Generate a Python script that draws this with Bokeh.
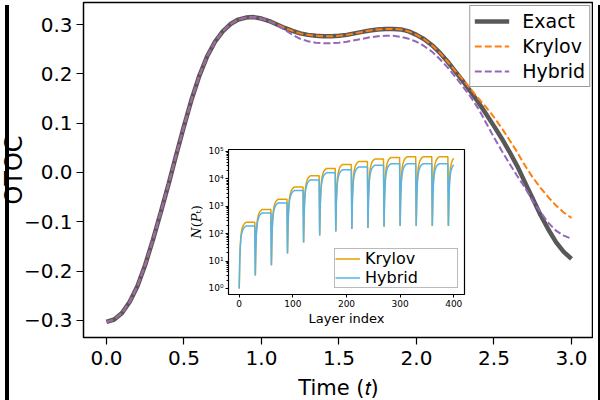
from bokeh.plotting import figure
from bokeh.models import FixedTicker, CustomJSTickFormatter, Div, GlobalInlineStyleSheet
from bokeh.embed import file_html
from bokeh.resources import INLINE

# ---- main panel: OTOC versus time ----
time = [0.00, 0.05, 0.10, 0.15, 0.20, 0.25, 0.30, 0.35, 0.40, 0.45,
        0.50, 0.55, 0.60, 0.65, 0.70, 0.75, 0.80, 0.85, 0.90, 0.95,
        1.00, 1.05, 1.10, 1.15, 1.20, 1.25, 1.30, 1.35, 1.40, 1.45,
        1.50, 1.55, 1.60, 1.65, 1.70, 1.75, 1.80, 1.85, 1.90, 1.95,
        2.00, 2.05, 2.10, 2.15, 2.20, 2.25, 2.30, 2.35, 2.40, 2.45,
        2.50, 2.55, 2.60, 2.65, 2.70, 2.75, 2.80, 2.85, 2.90, 2.95, 3.00]

otoc_exact = [-0.303, -0.298, -0.285, -0.262, -0.230, -0.187, -0.136, -0.081, -0.024, 0.036,
              0.094, 0.149, 0.197, 0.236, 0.265, 0.286, 0.301, 0.310, 0.314, 0.315,
              0.312, 0.307, 0.300, 0.293, 0.287, 0.282, 0.279, 0.277, 0.276, 0.276,
              0.277, 0.279, 0.282, 0.285, 0.288, 0.290, 0.291, 0.291, 0.290, 0.286,
              0.279, 0.270, 0.258, 0.243, 0.225, 0.205, 0.185, 0.164, 0.142, 0.118,
              0.094, 0.069, 0.042, 0.013, -0.020, -0.053, -0.086, -0.115, -0.141, -0.161, -0.175]

otoc_krylov = [-0.303, -0.298, -0.285, -0.262, -0.230, -0.187, -0.136, -0.081, -0.024, 0.036,
               0.094, 0.149, 0.197, 0.236, 0.265, 0.286, 0.301, 0.310, 0.314, 0.315,
               0.312, 0.307, 0.300, 0.293, 0.287, 0.282, 0.279, 0.277, 0.276, 0.276,
               0.277, 0.279, 0.282, 0.285, 0.288, 0.290, 0.291, 0.291, 0.290, 0.286,
               0.279, 0.270, 0.258, 0.243, 0.225, 0.206, 0.188, 0.169, 0.150, 0.132,
               0.112, 0.090, 0.066, 0.041, 0.014, -0.010, -0.031, -0.050, -0.067, -0.081, -0.092]

otoc_hybrid = [-0.303, -0.298, -0.285, -0.262, -0.230, -0.187, -0.136, -0.081, -0.024, 0.036,
               0.094, 0.149, 0.197, 0.236, 0.265, 0.286, 0.301, 0.310, 0.314, 0.315,
               0.312, 0.307, 0.299, 0.289, 0.279, 0.271, 0.266, 0.263, 0.262, 0.262,
               0.263, 0.265, 0.268, 0.271, 0.274, 0.276, 0.277, 0.277, 0.275, 0.271,
               0.265, 0.256, 0.245, 0.230, 0.213, 0.194, 0.174, 0.153, 0.129, 0.100,
               0.071, 0.044, 0.018, -0.007, -0.031, -0.058, -0.080, -0.102, -0.118, -0.128, -0.134]

time_ticks = [0.0, 0.5, 1.0, 1.5, 2.0, 2.5, 3.0]
otoc_ticks = [-0.3, -0.2, -0.1, 0.0, 0.1, 0.2, 0.3]

# ---- inset: number of Pauli strings per layer ----
layers_per_step = 30
layer_index = list(range(0, 401))
step_dip = [1, 3, 7, 19, 48, 85, 120, 148, 160, 180, 190, 190, 190, 190]
krylov_plateau = [260, 760, 1800, 5000, 12900, 24000, 33500, 43000, 52500, 60000,
                  63500, 63500, 63500, 62000]
hybrid_plateau = [190, 570, 1320, 3750, 9150, 16600, 21500, 27000, 31000, 35500,
                  35500, 35500, 35500, 35500]
# fraction of the (log) climb from dip to plateau, layer by layer inside a step
step_rise = [0.0, 0.45, 0.66, 0.78, 0.85, 0.89, 0.92, 0.945, 0.96, 0.972,
             0.982, 0.99, 0.995, 1.0, 1.0, 1.0, 1.0, 1.0, 1.0, 1.0,
             1.0, 1.0, 1.0, 1.0, 1.0, 1.0, 1.0, 1.0, 1.0, 1.0]

n_krylov, n_hybrid = [], []
for layer in layer_index:
    s, k = divmod(layer, layers_per_step)
    f = step_rise[k]
    n_krylov.append(step_dip[s] * (krylov_plateau[s] / step_dip[s]) ** f)
    n_hybrid.append(step_dip[s] * (hybrid_plateau[s] / step_dip[s]) ** f)

layer_ticks = [0, 100, 200, 300, 400]
count_ticks = [1, 10, 100, 1000, 10000, 100000]
count_minor = [m * d for d in [1, 10, 100, 1000, 10000, 100000] for m in range(2, 10)]

FONT = "DejaVu Sans"
page_css = GlobalInlineStyleSheet(css="html, body { margin: 0; overflow: hidden; }")


def placed(left, top):
    return {"position": "absolute", "left": f"{left}px", "top": f"{top}px"}


p = figure(width=610, height=420, x_range=(-0.1484, 3.142), y_range=(-0.3345, 0.3446),
           output_backend="svg", toolbar_location=None,
           min_border_left=100, min_border_right=0, min_border_top=2, min_border_bottom=83,
           styles=placed(-17, 0), stylesheets=[page_css])
p.grid.visible = False
p.outline_line_color = "black"
p.outline_line_width = 1.5
p.background_fill_color = "white"
p.border_fill_color = "white"

p.line(time, otoc_exact, line_color="#585858", line_width=4.5, legend_label="Exact")
p.line(time, otoc_krylov, line_color="#ff7f0e", line_width=2, line_dash="7 3", legend_label="Krylov")
p.line(time, otoc_hybrid, line_color="#9467bd", line_width=2, line_dash="7 3", legend_label="Hybrid")

fmt1 = CustomJSTickFormatter(code="return tick.toFixed(1).replace('-', '\\u2212')")
p.xaxis.ticker = FixedTicker(ticks=time_ticks)
p.yaxis.ticker = FixedTicker(ticks=otoc_ticks)
p.xaxis.formatter = fmt1
p.yaxis.formatter = fmt1
p.xaxis.axis_label = "Time (\U0001D461)"
p.yaxis.axis_label = "OTOC"
for ax in (p.xaxis[0], p.yaxis[0]):
    ax.axis_line_color = None
    ax.major_tick_line_color = "black"
    ax.major_tick_line_width = 1.2
    ax.major_tick_out = 7
    ax.major_tick_in = 0
    ax.minor_tick_line_color = None
    ax.major_label_text_font = FONT
    ax.major_label_text_font_size = "20px"
    ax.major_label_text_color = "black"
    ax.axis_label_text_font = FONT
    ax.axis_label_text_font_style = "normal"
    ax.axis_label_text_color = "black"
p.xaxis.major_label_standoff = 6
p.yaxis.major_label_standoff = 4
p.xaxis.axis_label_text_font_size = "21px"
p.xaxis.axis_label_standoff = 8
p.yaxis.axis_label_text_font_size = "24px"
p.yaxis.axis_label_standoff = -7

lg = p.legend[0]
lg.location = "top_right"
lg.margin = 3
lg.padding = 4
lg.spacing = 3
lg.glyph_width = 35
lg.glyph_height = 20
lg.label_height = 20
lg.label_standoff = 13
lg.label_text_font = FONT
lg.label_text_font_size = "19px"
lg.label_text_color = "black"
lg.border_line_color = "#333333"
lg.border_line_width = 1.2
lg.background_fill_alpha = 1.0

ins = figure(width=285, height=190, x_range=(-20, 420), y_range=(10 ** -0.22, 10 ** 5.07),
             y_axis_type="log", output_backend="svg", toolbar_location=None,
             min_border_left=43, min_border_right=6, min_border_top=9, min_border_bottom=36,
             styles=placed(185, 140))
ins.grid.visible = False
ins.outline_line_color = "black"
ins.outline_line_width = 1.2
ins.border_fill_alpha = 0
ins.background_fill_color = "white"

ins.line(layer_index, n_krylov, line_color="#e69f00", line_width=1.5, legend_label="Krylov")
ins.line(layer_index, n_hybrid, line_color="#56b4e9", line_width=1.5, legend_label="Hybrid")

ins.xaxis.ticker = FixedTicker(ticks=layer_ticks)
ins.yaxis.ticker = FixedTicker(ticks=count_ticks, minor_ticks=count_minor)
ins.yaxis.formatter = CustomJSTickFormatter(code="""
const sup = ['\\u2070', '\\u00b9', '\\u00b2', '\\u00b3', '\\u2074', '\\u2075'];
return '10' + sup[Math.round(Math.log10(tick))];
""")
ins.xaxis.axis_label = "Layer index"
ins.yaxis.axis_label = "\U0001D441(\U0001D443\u209C)"
for ax in (ins.xaxis[0], ins.yaxis[0]):
    ax.axis_line_color = None
    ax.major_tick_line_color = "black"
    ax.major_tick_out = 3
    ax.major_tick_in = 0
    ax.minor_tick_line_color = None
    ax.major_label_text_font = FONT
    ax.major_label_text_font_size = "9px"
    ax.major_label_text_color = "black"
    ax.major_label_standoff = 2
    ax.axis_label_text_color = "black"
    ax.axis_label_text_font_style = "normal"
    ax.axis_label_standoff = 1
ins.yaxis.minor_tick_line_color = "black"
ins.yaxis.minor_tick_out = 2
ins.yaxis.minor_tick_in = 0
ins.xaxis.axis_label_text_font = FONT
ins.xaxis.axis_label_text_font_size = "13px"
ins.yaxis.axis_label_text_font = "DejaVu Serif"
ins.yaxis.axis_label_text_font_size = "13px"

il = ins.legend[0]
il.location = "bottom_right"
il.margin = 6
il.padding = 0
il.spacing = 0
il.glyph_width = 25
il.glyph_height = 17
il.label_height = 17
il.label_width = 92
il.label_standoff = 5
il.label_text_font = FONT
il.label_text_font_size = "16px"
il.label_text_color = "black"
il.border_line_color = "#777777"
il.border_line_width = 1

# dark edges at both sides of the page
edge_left = Div(text="", width=4, height=400,
                styles={**placed(0, 0), "background-color": "black"})
edge_right = Div(text="", width=7, height=400,
                 styles={**placed(593, 0), "background-color": "black"})

p_all = [p, ins, edge_left, edge_right]
open("out.html", "w").write(file_html(p_all, INLINE))
